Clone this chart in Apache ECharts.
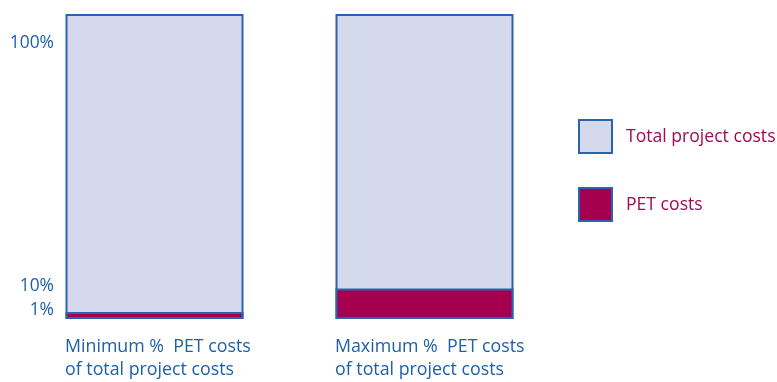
<!DOCTYPE html>
<html>
<head>
<meta charset="utf-8">
<script src="https://cdn.jsdelivr.net/npm/echarts@6/dist/echarts.min.js"></script>
<style>html,body{margin:0;padding:0;background:#fff}#c{width:777px;height:382px}</style>
</head>
<body>
<div id="c"></div>
<script>
const categories = ['Minimum %  PET costs\nof total project costs', 'Maximum %  PET costs\nof total project costs'];
const seriesNames = ['Total project costs', 'PET costs'];
const totalCosts = [100, 100];
const petCosts = [1, 10];
const tickValues = [1, 10, 100];
const tickLabels = ['1%', '10%', '100%'];

const FONT = 'Open Sans';
const BLUE_TEXT = '#1c60ab';
const BORDER = '#2b63ad';
const LAVENDER = '#d4d9ed';
const MAGENTA = '#a50050';

const chart = echarts.init(document.getElementById('c'), null, {renderer: 'canvas'});
chart.setOption({
  animation: false,
  grid: {left: 19.5, top: 14, width: 540, height: 305, containLabel: false},
  legend: {
    orient: 'vertical', left: 578, top: 119, padding: 0,
    itemWidth: 33, itemHeight: 33, itemGap: 33,
    icon: 'rect',
    data: seriesNames,
    textStyle: {color: '#a20a55', fontFamily: FONT, fontSize: 17.6, padding: [0, 0, 0, 9]}
  },
  xAxis: {
    type: 'category', data: categories,
    axisLine: {show: false}, axisTick: {show: false},
    axisLabel: {
      color: BLUE_TEXT, fontFamily: FONT, fontSize: 17.8, lineHeight: 22.5,
      align: 'left', margin: 17, padding: [0, 0, 0, -89.5], interval: 0
    }
  },
  yAxis: {
    type: 'value', min: 0, max: 100,
    offset: -34.5,
    splitLine: {show: false}, axisLine: {show: false}, axisTick: {show: false},
    axisLabel: {
      customValues: tickValues,
      margin: 0,
      formatter: function (v) {
        const i = tickValues.indexOf(v);
        const key = v === 100 ? 'a' : (v === 10 ? 'b' : 'c');
        return '{' + key + '|' + tickLabels[i] + '}';
      },
      rich: {
        a: {color: BLUE_TEXT, fontFamily: FONT, fontSize: 17.4, padding: [58, 0, 0, 0]},
        b: {color: BLUE_TEXT, fontFamily: FONT, fontSize: 17.4, padding: [0, 0, 5, 0]},
        c: {color: BLUE_TEXT, fontFamily: FONT, fontSize: 17.4, padding: [0, 0, 12, 0]}
      }
    }
  },
  series: [
    {
      name: seriesNames[0], type: 'bar', data: totalCosts,
      barWidth: 178, barGap: '-100%',
      itemStyle: {color: LAVENDER, borderColor: BORDER, borderWidth: 2}
    },
    {
      name: seriesNames[1], type: 'bar', data: petCosts,
      barWidth: 178, barGap: '-100%', barMinHeight: 7,
      itemStyle: {color: MAGENTA, borderColor: BORDER, borderWidth: 2}
    }
  ]
});
</script>
</body>
</html>
